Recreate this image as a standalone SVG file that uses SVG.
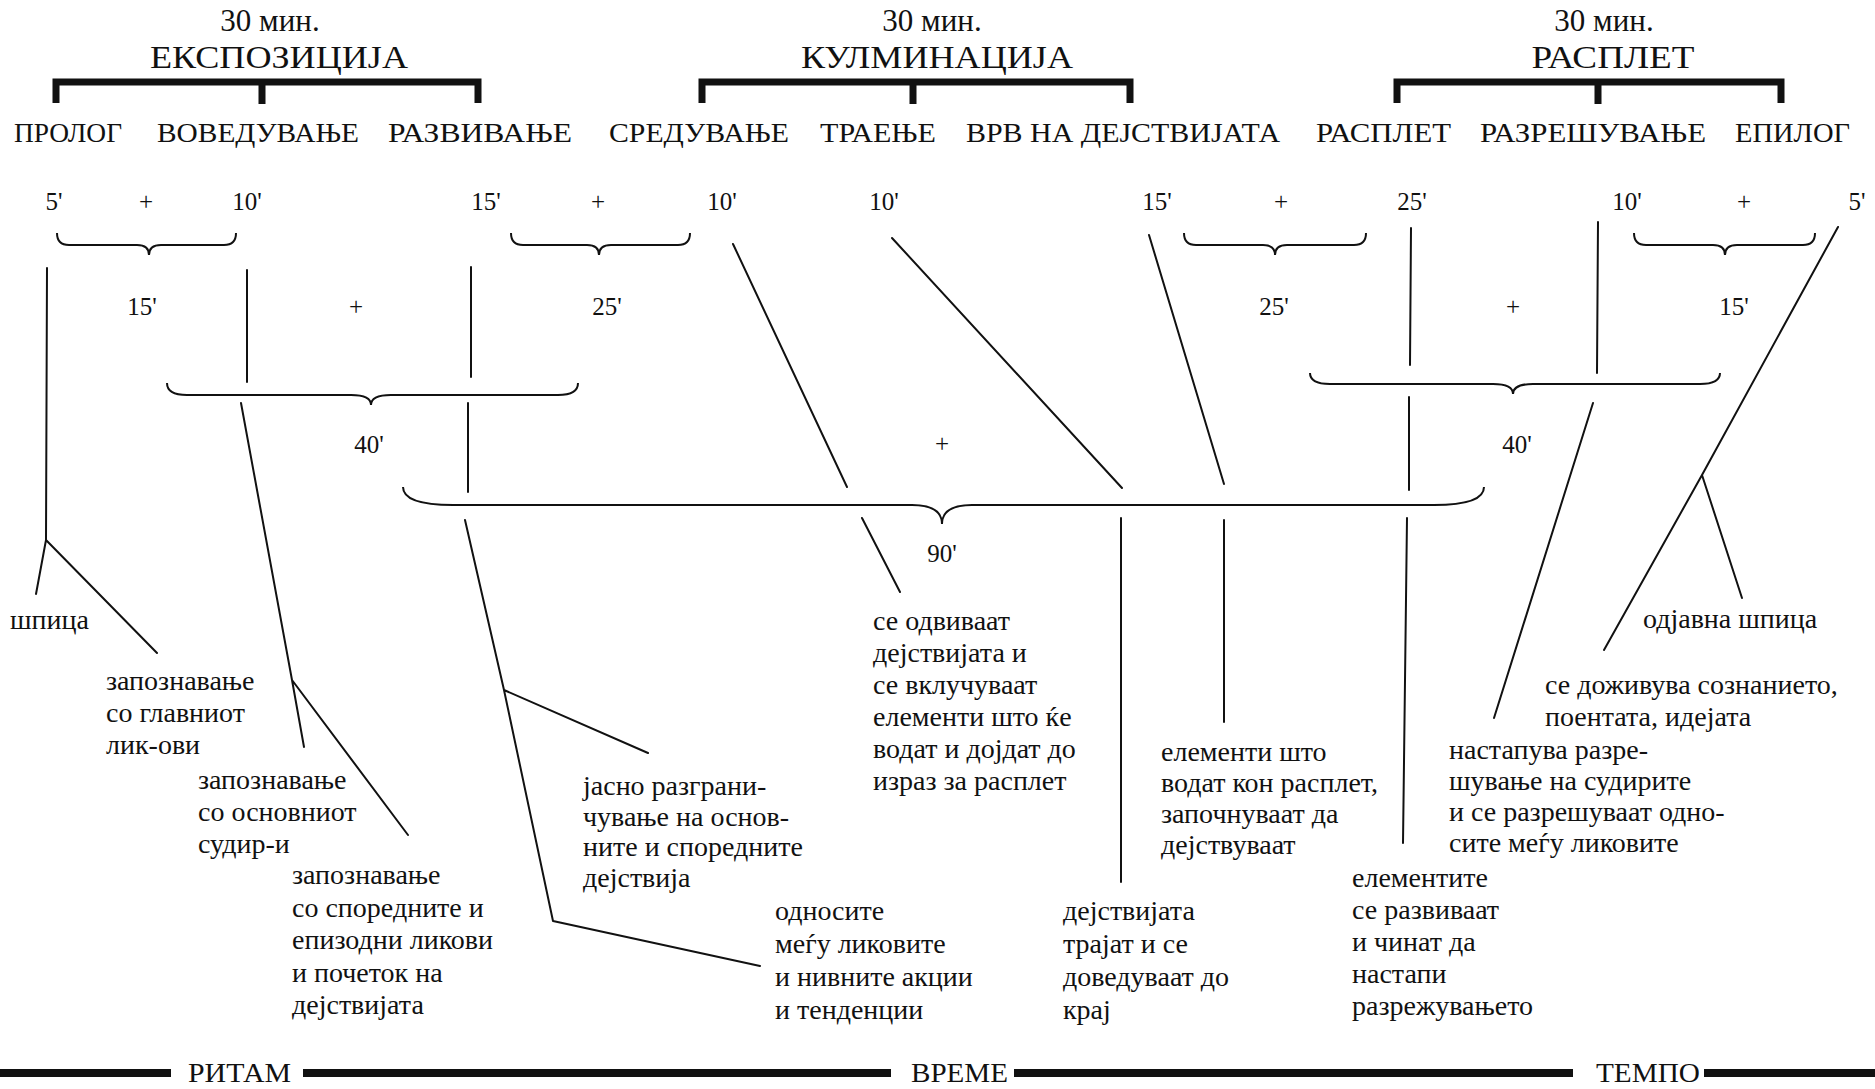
<svg xmlns="http://www.w3.org/2000/svg" width="1875" height="1089" viewBox="0 0 1875 1089">
<style>
text{font-family:"Liberation Serif","Times New Roman",serif;fill:#111}
.h{font-size:31px}
.lab{font-size:28px}
.num{font-size:25px}
.body{font-size:28px}
.ln{fill:none;stroke:#111;stroke-width:2;stroke-linecap:round;stroke-linejoin:round}
.br{fill:none;stroke:#111;stroke-width:2}
.thick{fill:none;stroke:#111;stroke-width:7;stroke-linejoin:miter}
.base{fill:none;stroke:#111;stroke-width:8}
</style>
<rect width="1875" height="1089" fill="#fff"/>

<g id="heading-ekspozicija">
<text class="h" x="270" y="31" text-anchor="middle">30 мин.</text>
<text class="h" x="279" y="68" text-anchor="middle" textLength="258" lengthAdjust="spacingAndGlyphs">ЕКСПОЗИЦИЈА</text>
<path class="thick" d="M56,103 V82 H478 V103 M262,82 V104"/>
</g>
<g id="heading-kulminacija">
<text class="h" x="932" y="31" text-anchor="middle">30 мин.</text>
<text class="h" x="937" y="68" text-anchor="middle" textLength="272" lengthAdjust="spacingAndGlyphs">КУЛМИНАЦИЈА</text>
<path class="thick" d="M702,103 V82 H1130 V103 M913,82 V104"/>
</g>
<g id="heading-rasplet">
<text class="h" x="1604" y="31" text-anchor="middle">30 мин.</text>
<text class="h" x="1613" y="68" text-anchor="middle" textLength="163" lengthAdjust="spacingAndGlyphs">РАСПЛЕТ</text>
<path class="thick" d="M1397,103 V82 H1781 V103 M1598,82 V104"/>
</g>

<g id="phases">
<text class="lab" x="14" y="142" textLength="108" lengthAdjust="spacingAndGlyphs">ПРОЛОГ</text>
<text class="lab" x="157" y="142" textLength="202" lengthAdjust="spacingAndGlyphs">ВОВЕДУВАЊЕ</text>
<text class="lab" x="388" y="142" textLength="184" lengthAdjust="spacingAndGlyphs">РАЗВИВАЊЕ</text>
<text class="lab" x="609" y="142" textLength="180" lengthAdjust="spacingAndGlyphs">СРЕДУВАЊЕ</text>
<text class="lab" x="820" y="142" textLength="116" lengthAdjust="spacingAndGlyphs">ТРАЕЊЕ</text>
<text class="lab" x="966" y="142" textLength="314" lengthAdjust="spacingAndGlyphs">ВРВ НА ДЕЈСТВИЈАТА</text>
<text class="lab" x="1316" y="142" textLength="135" lengthAdjust="spacingAndGlyphs">РАСПЛЕТ</text>
<text class="lab" x="1480" y="142" textLength="226" lengthAdjust="spacingAndGlyphs">РАЗРЕШУВАЊЕ</text>
<text class="lab" x="1735" y="142" textLength="115" lengthAdjust="spacingAndGlyphs">ЕПИЛОГ</text>
</g>

<g id="durations" class="num" text-anchor="middle">
<text x="54" y="210">5'</text>
<text x="146" y="210">+</text>
<text x="247" y="210">10'</text>
<text x="486" y="210">15'</text>
<text x="598" y="210">+</text>
<text x="722" y="210">10'</text>
<text x="884" y="210">10'</text>
<text x="1157" y="210">15'</text>
<text x="1281" y="210">+</text>
<text x="1412" y="210">25'</text>
<text x="1627" y="210">10'</text>
<text x="1744" y="210">+</text>
<text x="1857" y="210">5'</text>
<text x="142" y="315">15'</text>
<text x="356" y="315">+</text>
<text x="607" y="315">25'</text>
<text x="1274" y="315">25'</text>
<text x="1513" y="315">+</text>
<text x="1734" y="315">15'</text>
<text x="369" y="453">40'</text>
<text x="942" y="452">+</text>
<text x="1517" y="453">40'</text>
<text x="942" y="562">90'</text>
</g>

<g id="braces">
<path class="br" d="M57,233 Q57,245 69,245 L137,245 Q149,245 149,255 Q149,245 161,245 L224,245 Q236,245 236,233"/>
<path class="br" d="M511,233 Q511,245 523,245 L587,245 Q599,245 599,255 Q599,245 611,245 L678,245 Q690,245 690,233"/>
<path class="br" d="M1184,233 Q1184,245 1196,245 L1263,245 Q1275,245 1275,255 Q1275,245 1287,245 L1354,245 Q1366,245 1366,233"/>
<path class="br" d="M1634,233 Q1634,245 1646,245 L1713,245 Q1725,245 1725,255 Q1725,245 1737,245 L1803,245 Q1815,245 1815,233"/>
<path class="br" d="M167,383 Q167,395 187,395 L351,395 Q371,395 371,405 Q371,395 391,395 L558,395 Q578,395 578,383"/>
<path class="br" d="M1310,373 Q1310,384 1330,384 L1493,384 Q1513,384 1513,394 Q1513,384 1533,384 L1700,384 Q1720,384 1720,373"/>
<path class="br" d="M403,487 Q403,505 453,505 L912,505 Q942,505 942,524 Q942,505 972,505 L1434,505 Q1484,505 1484,487"/>
</g>

<g id="connectors">
<path class="ln" d="M47,268 L46,540 M46,540 L36,594 M46,540 L157,653"/>
<path class="ln" d="M247,270 L247,382 M241,403 L292,680 M292,680 L304,747 M292,680 L408,835"/>
<path class="ln" d="M471,267 L471,377 M468,403 L468,492 M465,520 L504,690 M504,690 L648,753 M504,690 L553,921 L760,966"/>
<path class="ln" d="M733,244 L847,487 M862,518 L900,592"/>
<path class="ln" d="M892,238 L1122,488 M1121,518 L1121,882"/>
<path class="ln" d="M1149,235 L1224,484 M1224,520 L1224,722"/>
<path class="ln" d="M1411,228 L1410,365 M1409,397 L1409,490 M1407,518 L1403,843"/>
<path class="ln" d="M1598,222 L1597,373 M1593,403 L1494,718"/>
<path class="ln" d="M1838,227 L1702,475 L1604,650 M1702,475 L1742,598"/>
</g>

<g id="notes" class="body">
<text x="10" y="629">шпица</text>
<text x="106" y="690"><tspan x="106">запознавање</tspan><tspan x="106" dy="32">со главниот</tspan><tspan x="106" dy="32">лик-ови</tspan></text>
<text x="198" y="789"><tspan x="198">запознавање</tspan><tspan x="198" dy="32">со основниот</tspan><tspan x="198" dy="32">судир-и</tspan></text>
<text x="292" y="884"><tspan x="292">запознавање</tspan><tspan x="292" dy="32.5">со споредните и</tspan><tspan x="292" dy="32.5">епизодни ликови</tspan><tspan x="292" dy="32.5">и почеток на</tspan><tspan x="292" dy="32.5">дејствијата</tspan></text>
<text x="583" y="795"><tspan x="583">јасно разграни-</tspan><tspan x="583" dy="30.5">чување на основ-</tspan><tspan x="583" dy="30.5">ните и споредните</tspan><tspan x="583" dy="31">дејствија</tspan></text>
<text x="775" y="920"><tspan x="775">односите</tspan><tspan x="775" dy="33">меѓу ликовите</tspan><tspan x="775" dy="33">и нивните акции</tspan><tspan x="775" dy="33">и тенденции</tspan></text>
<text x="873" y="630"><tspan x="873">се одвиваат</tspan><tspan x="873" dy="32">дејствијата и</tspan><tspan x="873" dy="32">се вклучуваат</tspan><tspan x="873" dy="32">елементи што ќе</tspan><tspan x="873" dy="32">водат и дојдат до</tspan><tspan x="873" dy="32">израз за расплет</tspan></text>
<text x="1063" y="920"><tspan x="1063">дејствијата</tspan><tspan x="1063" dy="33">трајат и се</tspan><tspan x="1063" dy="33">доведуваат до</tspan><tspan x="1063" dy="33">крај</tspan></text>
<text x="1161" y="761"><tspan x="1161">елементи што</tspan><tspan x="1161" dy="31">водат кон расплет,</tspan><tspan x="1161" dy="31">започнуваат да</tspan><tspan x="1161" dy="31">дејствуваат</tspan></text>
<text x="1352" y="887"><tspan x="1352">елементите</tspan><tspan x="1352" dy="32">се развиваат</tspan><tspan x="1352" dy="32">и чинат да</tspan><tspan x="1352" dy="32">настапи</tspan><tspan x="1352" dy="32">разрежувањето</tspan></text>
<text x="1449" y="759"><tspan x="1449">настапува разре-</tspan><tspan x="1449" dy="31">шување на судирите</tspan><tspan x="1449" dy="31">и се разрешуваат одно-</tspan><tspan x="1449" dy="31">сите меѓу ликовите</tspan></text>
<text x="1545" y="694"><tspan x="1545">се доживува сознанието,</tspan><tspan x="1545" dy="32">поентата, идејата</tspan></text>
<text x="1643" y="628">одјавна шпица</text>
</g>

<g id="axis">
<path class="base" d="M0,1073 H171 M303,1073 H891 M1014,1073 H1573 M1704,1073 H1875"/>
<text class="lab" x="188" y="1082" textLength="103" lengthAdjust="spacingAndGlyphs">РИТАМ</text>
<text class="lab" x="911" y="1082" textLength="97" lengthAdjust="spacingAndGlyphs">ВРЕМЕ</text>
<text class="lab" x="1596" y="1082" textLength="104" lengthAdjust="spacingAndGlyphs">ТЕМПО</text>
</g>
</svg>
